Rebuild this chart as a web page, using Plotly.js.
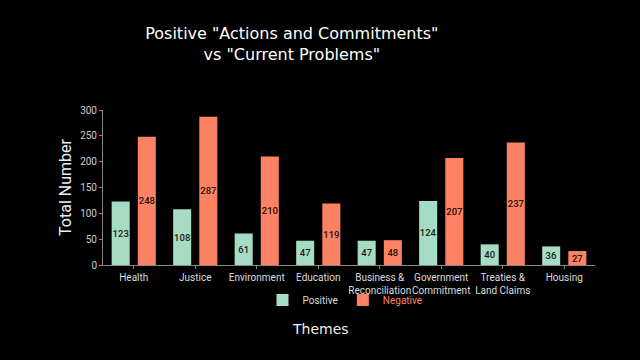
<!DOCTYPE html>
<html>
<head>
<meta charset="utf-8">
<script src="https://cdn.plot.ly/plotly-3.0.1.min.js"></script>
<style>html,body{margin:0;padding:0;background:#000;}#chart{width:640px;height:360px;}</style>
</head>
<body>
<div id="chart"></div>
<script>
const categories = ["Health", "Justice", "Environment", "Education", "Business &<br>Reconciliation", "Government<br>Commitment", "Treaties &<br>Land Claims", "Housing"];
const positive = [123, 108, 61, 47, 47, 124, 40, 36];
const negative = [248, 287, 210, 119, 48, 207, 237, 27];
const yTicks = [0, 50, 100, 150, 200, 250, 300];

const green = "#a6dcc3";
const red = "#fb8263";

const traces = [
  {
    type: "bar", name: "Positive", x: categories, y: positive,
    marker: {color: green},
    text: positive.map(String), textposition: "inside", insidetextanchor: "middle",
    textangle: 0,
    textfont: {family: "Roboto", size: 9.5, color: "#1a1a1a", weight: 500},
    hoverinfo: "none"
  },
  {
    type: "bar", name: '<span style="color:' + red + '">Negative</span>', x: categories, y: negative,
    marker: {color: red},
    text: negative.map(String), textposition: "inside", insidetextanchor: "middle",
    textangle: 0,
    textfont: {family: "Roboto", size: 9.5, color: "#2a0a04", weight: 500},
    hoverinfo: "none"
  }
];

const layout = {
  width: 640, height: 360,
  paper_bgcolor: "#000", plot_bgcolor: "#000",
  margin: {l: 103, r: 45, t: 110, b: 95},
  font: {family: "Roboto", color: "#dddddd", size: 10},
  uniformtext: {mode: "show", minsize: 9.5},
  title: {
    text: 'Positive "Actions and Commitments"<br>vs "Current Problems"',
    x: 0.456, xref: "container", xanchor: "center",
    y: 0.892, yref: "container", yanchor: "top",
    font: {family: "DejaVu Sans", size: 16, color: "#ffffff"}
  },
  barmode: "group", bargap: 0.15, bargroupgap: 0.31,
  xaxis: {
    showline: true, linecolor: "#888", linewidth: 1,
    ticks: "outside", ticklen: 3, tickcolor: "#888",
    tickangle: 0, automargin: false,
    tickfont: {size: 10, color: "#dddddd"},
    showgrid: false, zeroline: false
  },
  yaxis: {
    range: [0, 300], tickvals: yTicks, automargin: false,
    showline: true, linecolor: "#888", linewidth: 1,
    ticks: "outside", ticklen: 3, tickcolor: "#888",
    tickfont: {size: 10, color: "#cccccc"},
    showgrid: false, zeroline: false,
    title: {text: "Total Number", font: {size: 16, color: "#eeeeee"}, standoff: 4}
  },
  showlegend: true,
  legend: {
    orientation: "h", x: (345 - 103) / 492, xanchor: "center",
    y: -0.225, yanchor: "middle",
    font: {size: 10, color: "#dddddd"},
    itemwidth: 30,
    bgcolor: "rgba(0,0,0,0)"
  },
  annotations: [
    {text: "Themes", xref: "paper", yref: "paper", x: (320 - 103) / 492, y: -0.41,
     xanchor: "center", yanchor: "middle", showarrow: false,
     font: {family: "DejaVu Sans", size: 14, color: "#eeeeee"}}
  ]
};

Plotly.newPlot("chart", traces, layout, {displayModeBar: false, staticPlot: true});
</script>
</body>
</html>
